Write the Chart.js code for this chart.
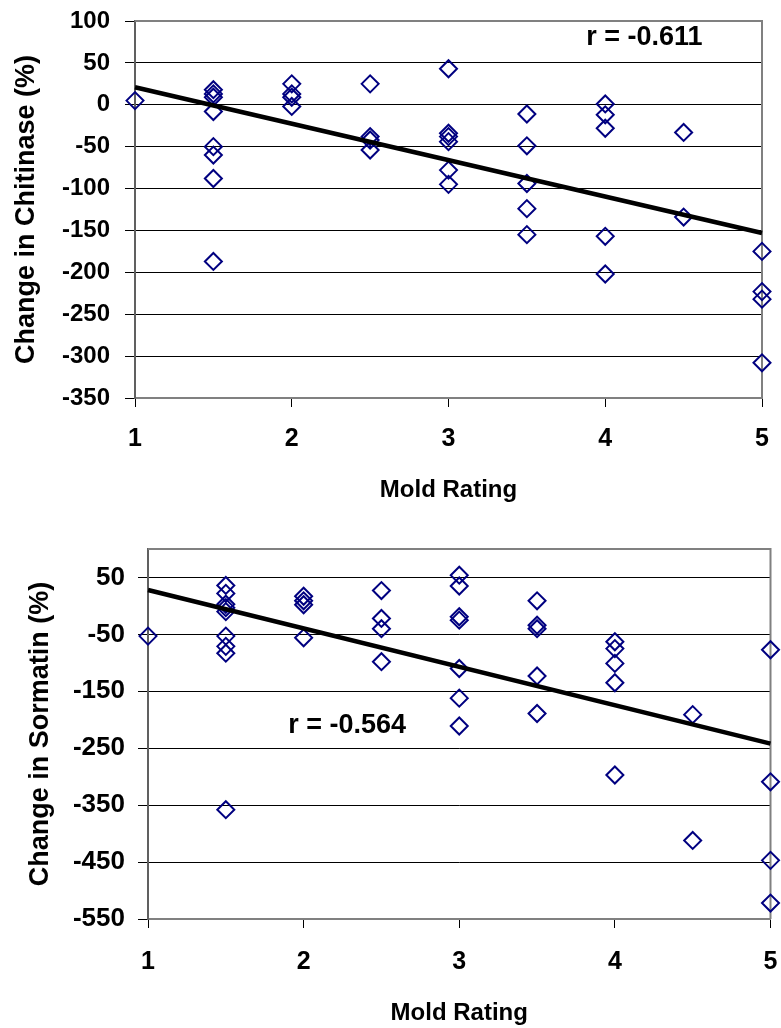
<!DOCTYPE html>
<html>
<head>
<meta charset="utf-8">
<script src="https://cdn.jsdelivr.net/npm/chart.js@4.4.0/dist/chart.umd.min.js"></script>
<style>
html, body { margin: 0; padding: 0; background: #fff; }
#wrap { position: relative; width: 781px; height: 1028px; }
canvas { position: absolute; left: 0; }
</style>
</head>
<body>
<div id="wrap">
  <canvas id="chitinase" width="781" height="510" style="top:0px"></canvas>
  <canvas id="sormatin" width="781" height="518" style="top:510px"></canvas>
</div>
<script>
'use strict';

// Mold rating ticks shared by both panels
var ratingTicks = [1, 2, 3, 4, 5];

// Top panel: change in chitinase (%) vs mold rating
var chitinaseRating = [1,
    1.5, 1.5, 1.5, 1.5, 1.5, 1.5, 1.5, 1.5,
    2, 2, 2, 2,
    2.5, 2.5, 2.5, 2.5,
    3, 3, 3, 3, 3, 3,
    3.5, 3.5, 3.5, 3.5, 3.5,
    4, 4, 4, 4, 4,
    4.5, 4.5,
    5, 5, 5, 5];
var chitinaseChange = [5,
    18, 13, 9, -8, -50, -60, -88, -187,
    25, 13, 9, -2,
    25, -38, -42, -54,
    43, -34, -38, -44, -78, -95,
    -11, -49, -94, -124, -155,
    1, -12, -28, -157, -202,
    -33, -134,
    -175, -223, -232, -308];
var chitinaseTicks = [100, 50, 0, -50, -100, -150, -200, -250, -300, -350];
var chitinaseTrendX = [1, 5];
var chitinaseTrendY = [21, -153];

// Bottom panel: change in sormatin (%) vs mold rating
var sormatinRating = [1,
    1.5, 1.5, 1.5, 1.5, 1.5, 1.5, 1.5, 1.5, 1.5,
    2, 2, 2, 2,
    2.5, 2.5, 2.5, 2.5,
    3, 3, 3, 3, 3, 3, 3,
    3.5, 3.5, 3.5, 3.5, 3.5,
    4, 4, 4, 4, 4,
    4.5, 4.5,
    5, 5, 5, 5];
var sormatinChange = [-53,
    36, 22, 3, -3, -10, -53, -71, -83, -358,
    17, 9, 2, -56,
    27, -22, -40, -98,
    54, 35, -19, -25, -110, -162, -211,
    9, -34, -40, -123, -189,
    -63, -75, -101, -135, -297,
    -191, -412,
    -77, -309, -447, -522];
var sormatinTicks = [50, -50, -150, -250, -350, -450, -550];
var sormatinTrendX = [1, 5];
var sormatinTrendY = [28, -242];

var FONT = "'Liberation Sans', Arial, Helvetica, sans-serif";

function toPoints(xs, ys) {
    return xs.map(function (x, i) {
        return {x: x, y: ys[i]};
    });
}

// the layout padding alone decides where the plot area sits
function dropScalePadding(scale) {
    scale.paddingTop = 0;
    scale.paddingBottom = 0;
    scale.paddingLeft = 0;
    scale.paddingRight = 0;
}

// gray frame on the top and right of the plot area, under the markers
var plotFrame = {
    id: 'plotFrame',
    beforeDatasetsDraw: function (chart) {
        var a = chart.chartArea;
        var ctx = chart.ctx;
        ctx.save();
        ctx.strokeStyle = '#808080';
        ctx.lineWidth = 2;
        ctx.beginPath();
        ctx.moveTo(a.left, a.top);
        ctx.lineTo(a.right, a.top);
        ctx.lineTo(a.right, a.bottom);
        ctx.stroke();
        ctx.restore();
    },
};

// correlation label placed in data coordinates
var rLabel = {
    id: 'rLabel',
    afterDatasetsDraw: function (chart, args, opts) {
        if (!opts.text) {
            return;
        }
        var ctx = chart.ctx;
        var px = chart.scales.x.getPixelForValue(opts.x);
        var py = chart.scales.y.getPixelForValue(opts.y);
        ctx.save();
        ctx.font = 'bold 27px ' + FONT;
        ctx.fillStyle = '#000';
        ctx.textAlign = 'center';
        ctx.textBaseline = 'middle';
        ctx.fillText(opts.text, px, py);
        ctx.restore();
    },
};

function buildChart(id, cfg) {
    var ctx = document.getElementById(id).getContext('2d');
    return new Chart(ctx, {
        type: 'scatter',
        data: {
            datasets: [{
                data: toPoints(cfg.rating, cfg.change),
                pointStyle: 'rectRot',
                pointRadius: 8.5,
                pointBorderWidth: 2,
                borderColor: '#000080',
                backgroundColor: 'rgba(0,0,0,0)',
                clip: false,
                order: 1,
            }, {
                data: toPoints(cfg.trendX, cfg.trendY),
                showLine: true,
                borderColor: '#000',
                borderWidth: 4.5,
                pointRadius: 0,
                fill: false,
                clip: false,
                order: 0,
            }],
        },
        options: {
            responsive: false,
            animation: false,
            layout: {padding: cfg.padding},
            plugins: {
                legend: {display: false},
                tooltip: {enabled: false},
                rLabel: cfg.label,
            },
            scales: {
                x: {
                    type: 'linear',
                    min: 1,
                    max: 5,
                    afterBuildTicks: function (scale) {
                        scale.ticks = ratingTicks.map(function (v) { return {value: v}; });
                    },
                    afterFit: function (scale) {
                        scale.height = cfg.xHeight;
                        dropScalePadding(scale);
                    },
                    ticks: {
                        color: '#000',
                        font: {family: FONT, size: 25, weight: 'bold'},
                        padding: cfg.xTickPad,
                        maxRotation: 0,
                    },
                    grid: {
                        drawOnChartArea: false,
                        drawTicks: true,
                        tickLength: 9,
                        tickColor: '#000',
                        tickWidth: 1,
                    },
                    border: {color: '#808080', width: 2},
                    title: {
                        display: true,
                        text: 'Mold Rating',
                        color: '#000',
                        font: {family: FONT, size: 24, weight: 'bold'},
                        padding: {top: 0, bottom: cfg.xTitlePad},
                    },
                },
                y: {
                    min: cfg.yMin,
                    max: cfg.yMax,
                    afterBuildTicks: function (scale) {
                        scale.ticks = cfg.yTicks.map(function (v) { return {value: v}; });
                    },
                    afterFit: function (scale) {
                        scale.width = cfg.yWidth;
                        dropScalePadding(scale);
                    },
                    ticks: {
                        color: '#000',
                        font: {family: FONT, size: cfg.yFont, weight: 'bold'},
                        padding: cfg.yTickPad,
                    },
                    grid: {
                        color: '#000',
                        lineWidth: 1,
                        tickLength: 10,
                        tickColor: '#000',
                    },
                    border: {color: '#606060', width: 2},
                    title: {
                        display: true,
                        text: cfg.yTitle,
                        color: '#000',
                        font: {family: FONT, size: 27, weight: 'bold'},
                        padding: {top: cfg.yTitlePad, bottom: 0},
                    },
                },
            },
        },
        plugins: [plotFrame, rLabel],
    });
}

buildChart('chitinase', {
    rating: chitinaseRating,
    change: chitinaseChange,
    trendX: chitinaseTrendX,
    trendY: chitinaseTrendY,
    yTicks: chitinaseTicks,
    yMin: -350,
    yMax: 100,
    yTitle: 'Change in Chitinase (%)',
    yFont: 24,
    yWidth: 135,
    yTickPad: 15,
    yTitlePad: 10,
    xHeight: 112,
    xTickPad: 17,
    xTitlePad: 5,
    padding: {top: 21, right: 19, bottom: 0, left: 0},
    label: {text: 'r = -0.611', x: 4.25, y: 80},
});

buildChart('sormatin', {
    rating: sormatinRating,
    change: sormatinChange,
    trendX: sormatinTrendX,
    trendY: sormatinTrendY,
    yTicks: sormatinTicks,
    yMin: -550,
    yMax: 100,
    yTitle: 'Change in Sormatin (%)',
    yFont: 26,
    yWidth: 148,
    yTickPad: 13,
    yTitlePad: 24,
    xHeight: 109,
    xTickPad: 19,
    xTitlePad: 0,
    padding: {top: 39, right: 9, bottom: 0, left: 0},
    label: {text: 'r = -0.564', x: 2.28, y: -210},
});
</script>
</body>
</html>
